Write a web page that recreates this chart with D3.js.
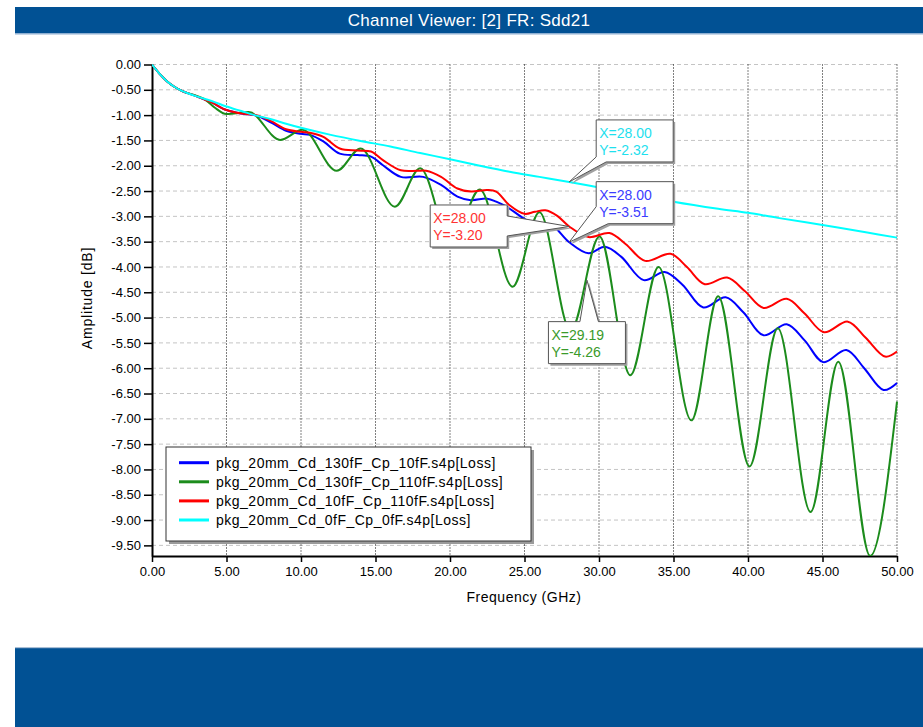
<!DOCTYPE html>
<html><head><meta charset="utf-8">
<script src="https://cdn.jsdelivr.net/npm/d3@7"></script>
<style>
body{margin:0;background:#fff;}
svg{display:block;font-family:"Liberation Sans",Arial,sans-serif;}
</style>
</head><body>
<svg id="c" width="923" height="727"></svg>
<script>
// ---------- data ----------
const titleText = "Channel Viewer: [2] FR: Sdd21";
const xTitle = "Frequency (GHz)";
const yTitle = "Amplitude [dB]";
const seriesNames = [
  "pkg_20mm_Cd_130fF_Cp_10fF.s4p[Loss]",
  "pkg_20mm_Cd_130fF_Cp_110fF.s4p[Loss]",
  "pkg_20mm_Cd_10fF_Cp_110fF.s4p[Loss]",
  "pkg_20mm_Cd_0fF_Cp_0fF.s4p[Loss]"
];
const xTicks = [0,5,10,15,20,25,30,35,40,45,50];
const yTicks = [0,-0.5,-1,-1.5,-2,-2.5,-3,-3.5,-4,-4.5,-5,-5.5,-6,-6.5,-7,-7.5,-8,-8.5,-9,-9.5];

// [frequency GHz, dB]
const blueSeries = [[0,0],[0.5,-0.18],[1,-0.33],[1.5,-0.44],[2,-0.52],[3,-0.63],[4,-0.75],[5,-0.90],[6,-0.97],[7,-1.01],[8,-1.15],[9,-1.31],[10,-1.37],[10.6,-1.39],[11.5,-1.52],[12.6,-1.76],[13.8,-1.79],[14.7,-1.82],[15.5,-1.99],[16.7,-2.22],[18.2,-2.22],[19.4,-2.38],[20.5,-2.61],[21.4,-2.68],[22.5,-2.65],[23.1,-2.71],[23.8,-2.81],[25,-3.05],[25.9,-3.18],[26.8,-3.17],[28,-3.51],[29.3,-3.73],[30.4,-3.60],[31.5,-3.80],[33.0,-4.26],[34.4,-4.10],[35.6,-4.35],[37.0,-4.80],[38.5,-4.60],[39.7,-4.90],[41.05,-5.35],[42.6,-5.13],[43.8,-5.45],[45.06,-5.88],[46.6,-5.64],[47.8,-6.00],[49.1,-6.43],[50,-6.29]];
const greenSeries = [[0,0],[0.5,-0.18],[1,-0.33],[1.5,-0.44],[2,-0.52],[3,-0.62],[3.5,-0.68],[4.2,-0.85],[5.0,-0.98],[6.5,-0.94],[8.6,-1.49],[10.1,-1.29],[12.4,-2.10],[14.0,-1.66],[16.3,-2.81],[18.0,-2.05],[20.1,-3.55],[22.0,-2.47],[24.2,-4.39],[26.0,-2.92],[28.1,-5.26],[30.03,-3.40],[32.1,-6.14],[34.0,-4.00],[36.2,-7.03],[38.0,-4.58],[40.1,-7.94],[42.0,-5.21],[44.2,-8.84],[46.06,-5.87],[48.2,-9.71],[50,-6.66]];
const redSeries = [[0,0],[0.5,-0.18],[1,-0.33],[1.5,-0.44],[2,-0.52],[3,-0.63],[4,-0.75],[5,-0.90],[6,-0.97],[7,-1.00],[8,-1.12],[9,-1.28],[10,-1.33],[10.6,-1.35],[11.5,-1.43],[12.6,-1.66],[13.8,-1.70],[14.7,-1.72],[15.5,-1.89],[16.7,-2.09],[17.8,-2.10],[18.4,-2.10],[19.4,-2.22],[20.5,-2.45],[21.4,-2.51],[22.5,-2.48],[23.1,-2.51],[24,-2.78],[25,-2.95],[25.7,-2.91],[26.4,-2.88],[27.2,-2.99],[28,-3.20],[29.3,-3.41],[30.7,-3.33],[31.8,-3.55],[33.1,-3.88],[34.8,-3.74],[35.9,-4.00],[37.1,-4.34],[38.6,-4.21],[39.8,-4.48],[41.05,-4.81],[42.6,-4.63],[43.8,-4.92],[45.1,-5.29],[46.7,-5.08],[47.9,-5.40],[49.2,-5.77],[50,-5.67]];
const cyanSeries = [[0,0],[0.5,-0.18],[1,-0.33],[1.5,-0.44],[2,-0.52],[3,-0.63],[4,-0.72],[5,-0.83],[6,-0.92],[7,-1.01],[8,-1.08],[9,-1.17],[10,-1.25],[12,-1.39],[14,-1.51],[16,-1.62],[18,-1.75],[20,-1.87],[22,-2.00],[24,-2.12],[26,-2.22],[28,-2.32],[30,-2.43],[32,-2.54],[35,-2.71],[38,-2.85],[40,-2.93],[42,-3.03],[45,-3.17],[48,-3.32],[50,-3.42]];

// marker annotations: series index, x, y
const markerSeries = [3, 0, 2, 1];
const markerX = [28.00, 28.00, 28.00, 29.19];
const markerY = [-2.32, -3.51, -3.20, -4.26];

// ---------- styles ----------
const lineColors = ["#0000ff", "#1c8c1c", "#ff0000", "#00ffff"];
const textColors = ["#3c3cff", "#3a9a2a", "#ff3434", "#1ee0ee"];
const allSeries = [blueSeries, greenSeries, redSeries, cyanSeries];

const svg = d3.select("#c");
const W = 923, H = 727;
const L = 152, R = 897, T = 64.5, B = 556;

// bands
const bandColor = "#015194";
svg.append("rect").attr("x",15).attr("y",7).attr("width",W-15).attr("height",26).attr("fill",bandColor);
svg.append("rect").attr("x",15).attr("y",33).attr("width",W-15).attr("height",1.5).attr("fill","#8fb0d2");
svg.append("text").attr("x",469).attr("y",26).attr("text-anchor","middle")
  .attr("fill","#fff").attr("font-size",17).attr("letter-spacing",0.3).text(titleText);
svg.append("rect").attr("x",15).attr("y",648).attr("width",W-15).attr("height",H-648).attr("fill",bandColor);
svg.append("rect").attr("x",15).attr("y",647).attr("width",W-15).attr("height",1.2).attr("fill","#a9bfd6");

// scales
const yMin = d3.min(allSeries.flat(), d => d[1]);
const x = d3.scaleLinear().domain([0, 50]).range([L, R]);
const y = d3.scaleLinear().domain([yMin, 0]).range([B, T]);

// grid
const g = svg.append("g");
g.selectAll("line.h").data(yTicks).join("line")
  .attr("x1", L).attr("x2", R).attr("y1", d => y(d)).attr("y2", d => y(d))
  .attr("stroke", "#c4c4c4").attr("stroke-width", 1).attr("stroke-dasharray", "4,3");
g.selectAll("line.v").data(xTicks.filter(d => d > 0)).join("line")
  .attr("x1", d => x(d)).attr("x2", d => x(d)).attr("y1", T).attr("y2", B)
  .attr("stroke", "#000").attr("stroke-width", 1).attr("stroke-dasharray", "1,2");

// axes
const fmt = v => (Math.abs(v) < 1e-9 ? 0 : v).toFixed(2);
const yAxis = svg.append("g").attr("transform", `translate(${L},0)`)
  .call(d3.axisLeft(y).tickValues(yTicks).tickFormat(fmt).tickSize(8).tickPadding(3).tickSizeOuter(0));
const xAxis = svg.append("g").attr("transform", `translate(0,${B})`)
  .call(d3.axisBottom(x).tickValues(xTicks).tickFormat(fmt).tickSize(6).tickPadding(5).tickSizeOuter(0));
[yAxis, xAxis].forEach(a => {
  a.select(".domain").attr("stroke", "#000").attr("stroke-width", 2);
  a.selectAll(".tick line").attr("stroke", "#000").attr("stroke-width", 1.5);
  a.selectAll(".tick text").attr("font-size", 13).attr("fill", "#000")
    .attr("font-family", '"Liberation Sans",Arial,sans-serif');
});

// axis titles
svg.append("text").attr("x", 524).attr("y", 602).attr("text-anchor", "middle")
  .attr("font-size", 14).attr("letter-spacing", 0.5).text(xTitle);
svg.append("text").attr("transform", "translate(92,298) rotate(-90)").attr("text-anchor", "middle")
  .attr("font-size", 14).attr("letter-spacing", 0.8).text(yTitle);

// curves
const smooth = d3.line().x(d => x(d[0])).y(d => y(d[1])).curve(d3.curveCatmullRom.alpha(0.5));
const mono = d3.line().x(d => x(d[0])).y(d => y(d[1])).curve(d3.curveMonotoneX);
svg.append("defs").append("clipPath").attr("id", "pc").append("rect")
  .attr("x", L).attr("y", T - 2).attr("width", R - L + 1).attr("height", B - T + 2);
const cg = svg.append("g").attr("clip-path", "url(#pc)");
allSeries.forEach((s, i) => {
  cg.append("path").attr("d", i === 1 ? mono(s) : smooth(s)).attr("fill", "none")
    .attr("stroke", lineColors[i]).attr("stroke-width", 2);
});

// legend
const lg = svg.append("g");
lg.append("rect").attr("x", 169).attr("y", 450).attr("width", 365).attr("height", 94).attr("fill", "#9a9a9a");
lg.append("rect").attr("x", 166).attr("y", 447).attr("width", 365).attr("height", 94)
  .attr("fill", "#fff").attr("stroke", "#333").attr("stroke-width", 1);
seriesNames.forEach((n, i) => {
  const yy = 462.7 + i * 19.1;
  lg.append("line").attr("x1", 179).attr("x2", 209).attr("y1", yy).attr("y2", yy)
    .attr("stroke", lineColors[i]).attr("stroke-width", 3);
  lg.append("text").attr("x", 216).attr("y", yy + 5).attr("font-size", 14)
    .attr("letter-spacing", 0.5).attr("fill", "#000").text(n);
});

// callouts
const bw = 77, bh = 42;
function callout(k) {
  const tx = x(markerX[k]), ty = y(markerY[k]);
  let x0, y0, d;
  if (k === 0 || k === 1) {
    x0 = tx + 27; y0 = k === 0 ? ty - 62 : ty - 60.5;
    const ly = k === 0 ? 37 : 25, bx = k === 0 ? 10 : 12;
    d = `M${x0},${y0}H${x0+bw}V${y0+bh}H${x0+bx}L${tx},${ty}L${x0},${y0+ly}Z`;
  } else if (k === 2) {
    x0 = tx - 139; y0 = ty - 21.5;
    d = `M${x0},${y0}H${x0+bw}V${y0+11}L${tx},${ty}L${x0+bw},${y0+31}V${y0+bh}H${x0}Z`;
  } else {
    x0 = tx - 38.5; y0 = ty + 41.5;
    d = `M${x0},${y0}H${x0+31.5}L${tx},${ty}L${x0+50},${y0}H${x0+bw}V${y0+bh}H${x0}Z`;
  }
  const cgp = svg.append("g");
  cgp.append("path").attr("d", d).attr("transform", "translate(2,2)").attr("fill", "#a0a0a0");
  cgp.append("path").attr("d", d).attr("fill", "#fff").attr("stroke", "#555").attr("stroke-width", 1);
  const c = textColors[markerSeries[k]];
  cgp.append("text").attr("x", x0 + 3).attr("y", y0 + 18).attr("font-size", 14).attr("fill", c)
    .text("X=" + markerX[k].toFixed(2));
  cgp.append("text").attr("x", x0 + 3).attr("y", y0 + 35).attr("font-size", 14).attr("fill", c)
    .text("Y=" + markerY[k].toFixed(2));
}
[0, 1, 2, 3].forEach(callout);
</script>
</body></html>
